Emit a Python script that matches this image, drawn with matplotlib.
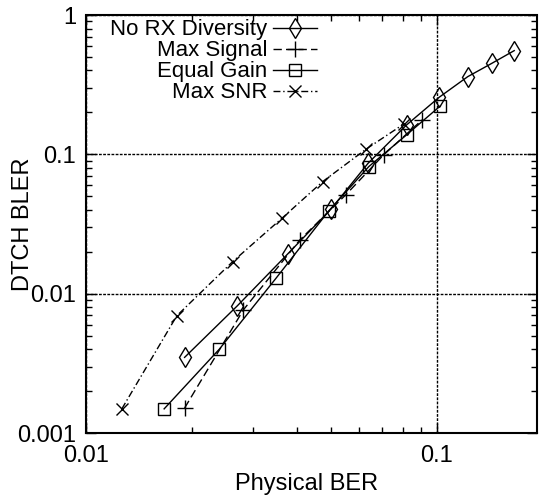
import numpy as np
import matplotlib
matplotlib.use("Agg")
import matplotlib.pyplot as plt
from matplotlib.ticker import LogLocator, FixedLocator, FixedFormatter, NullFormatter

# values (log-log)
norx_ber = [0.0191, 0.0270, 0.0376, 0.0499, 0.0637, 0.0820, 0.1016, 0.1225, 0.1435, 0.1662]
norx_bler = [0.00349, 0.00818, 0.0193, 0.0404, 0.0863, 0.1626, 0.257, 0.361, 0.450, 0.555]

maxsig_ber = [0.0191, 0.0281, 0.0407, 0.0550, 0.0705, 0.0908]
maxsig_bler = [0.00151, 0.00766, 0.0243, 0.0512, 0.099, 0.1766]

eqgain_ber = [0.0167, 0.0240, 0.0348, 0.0493, 0.0640, 0.0820, 0.1023]
eqgain_bler = [0.00149, 0.0040, 0.0129, 0.0395, 0.0817, 0.138, 0.2225]

maxsnr_ber = [0.01265, 0.01815, 0.0262, 0.0362, 0.0473, 0.0630, 0.0805]
maxsnr_bler = [0.00149, 0.00694, 0.0170, 0.0348, 0.0638, 0.1094, 0.165]

x_ticks = [0.01, 0.1]
x_labels = ["0.01", "0.1"]
y_ticks = [0.001, 0.01, 0.1, 1]
y_labels = ["0.001", "0.01", "0.1", "1"]

plt.rcParams['font.family'] = ['Liberation Sans', 'DejaVu Sans']

fig = plt.figure(figsize=(5.4, 4.97), dpi=100)
ax = fig.add_axes([86 / 540, 64 / 497, 451 / 540, 418 / 497])

ms = dict(color='black', lw=1.0, mfc='none', mec='black', mew=1.0)
ax.plot(norx_ber, norx_bler, ls='-', marker='d', ms=10, label='No RX Diversity', **ms)
ax.plot(maxsig_ber, maxsig_bler, ls=(0, (6, 3)), marker='+', ms=11, label='Max Signal', **ms)
ax.plot(eqgain_ber, eqgain_bler, ls='-', marker='s', ms=9, label='Equal Gain', **ms)
ax.plot(maxsnr_ber, maxsnr_bler, ls=(0, (5, 2, 1, 2)), marker='x', ms=9, label='Max SNR', **ms)

ax.set_xscale('log')
ax.set_yscale('log')
ax.set_xlim(0.01, 0.193)
ax.set_ylim(0.001, 1)

ax.xaxis.set_major_locator(FixedLocator(x_ticks))
ax.xaxis.set_major_formatter(FixedFormatter(x_labels))
ax.yaxis.set_major_locator(FixedLocator(y_ticks))
ax.yaxis.set_major_formatter(FixedFormatter(y_labels))
ax.xaxis.set_minor_locator(LogLocator(base=10, subs=np.arange(2, 10)))
ax.yaxis.set_minor_locator(LogLocator(base=10, subs=np.arange(2, 10)))
ax.xaxis.set_minor_formatter(NullFormatter())
ax.yaxis.set_minor_formatter(NullFormatter())

ax.tick_params(which='both', direction='in', top=True, right=True, labelsize=17)
ax.tick_params(which='major', length=7, width=1)
ax.tick_params(which='minor', length=4, width=1)
ax.tick_params(axis='x', pad=9)
ax.tick_params(axis='y', pad=7)

ax.grid(True, which='major', color='black', ls=(0, (2, 1)), lw=1.0)
for s in ax.spines.values():
    s.set_linestyle((0, (2, 1)))
    s.set_linewidth(1.5)

ax.set_xlabel('Physical BER', fontsize=17, va='top')
ax.set_ylabel('DTCH BLER', fontsize=17)
ax.xaxis.set_label_coords(0.49, -0.096)
ax.yaxis.set_label_coords(-0.115, 0.5)

ax.legend(loc='upper right', bbox_to_anchor=(0.523, 1.0), frameon=False,
          markerfirst=False, fontsize=16, labelspacing=0.0, handlelength=2.0,
          handletextpad=0.25, borderpad=0.2, borderaxespad=0)

fig.savefig('out.png', dpi=100)
